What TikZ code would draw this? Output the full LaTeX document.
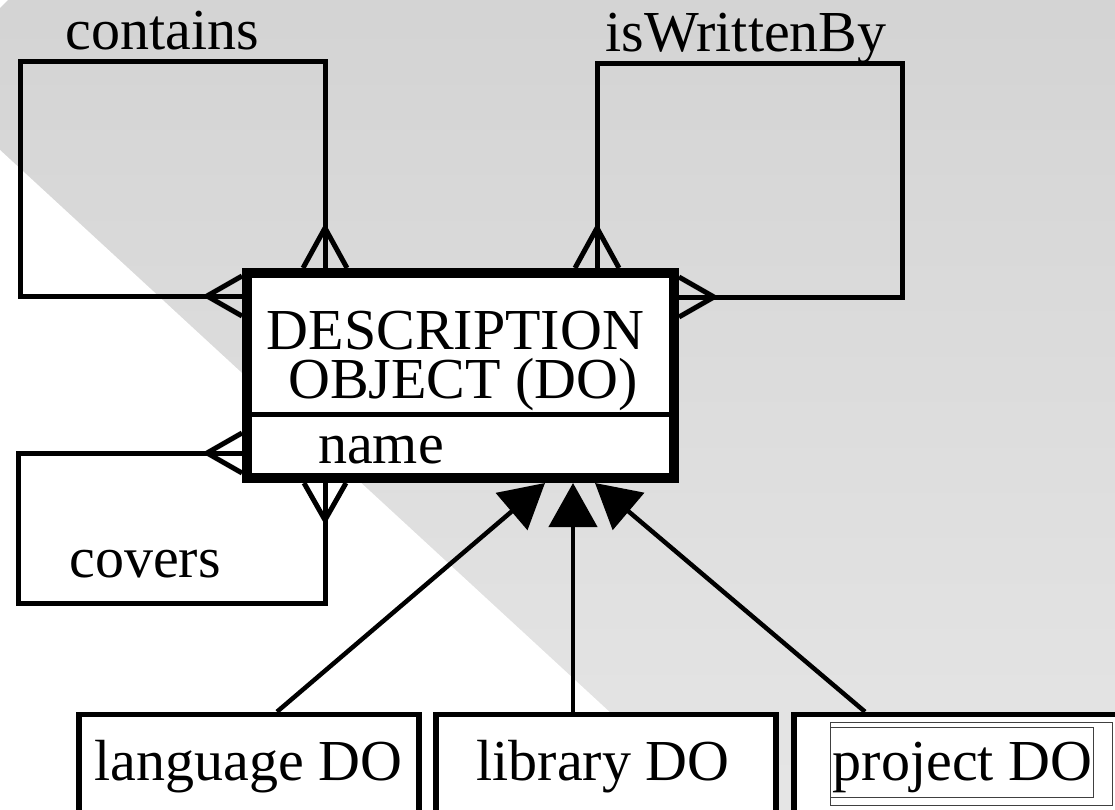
\documentclass[tikz,border=0pt]{standalone}
\usepackage{fontspec}
\setmainfont{Liberation Serif}
\usetikzlibrary{arrows.meta,calc}
\begin{document}
\begin{tikzpicture}[x=1pt,y=-1pt,
  rel/.style={line width=5pt, line join=miter},
  foot/.style={line width=5pt, line join=round},
  inh/.style={line width=4.5pt, -{Triangle[length=44pt,width=48pt]}},
  entity/.style={draw, fill=white, line width=10pt, inner sep=0pt},
  subbox/.style={draw, fill=white, line width=5.5pt, inner sep=0pt, minimum height=200pt, minimum width=340pt},
  lbl/.style={inner sep=0pt, anchor=base, font=\fontsize{58}{60}\selectfont},
  thinframe/.style={draw=black!75, line width=0.9pt}
]
\useasboundingbox (0,0) rectangle (1115,810);
\clip (0,0) rectangle (1115,810);
% background
\shade[top color=black!17, bottom color=black!10] (0,0) rectangle (1115,810);
\fill[white] (0,150) -- (716,810) -- (0,810) -- cycle;
\fill[white] (0,0) -- (8,0) -- (0,8) -- cycle;

% entity (positions the loops)
\node[entity, minimum width=427pt, minimum height=205pt] (do) at (460.5,375.5) {};

\coordinate (ca) at (325,62);
\coordinate (cb) at (20,62);
\coordinate (cc) at (20,296);
\draw[rel] (do.north -| ca) -- (ca) -- (cb) -- (cc) -- (do.west |- cc);
\draw[foot] ($(do.north -| ca)+(-22,0)$) -- ($(do.north -| ca)+(0,-40)$) -- ($(do.north -| ca)+(22,0)$);
\draw[foot] ($(do.west |- cc)+(0,-20)$) -- ($(do.west |- cc)+(-35,0)$) -- ($(do.west |- cc)+(0,20)$);

\coordinate (wa) at (597,64);
\coordinate (wb) at (902,64);
\coordinate (wc) at (902,297);
\draw[rel] (do.north -| wa) -- (wa) -- (wb) -- (wc) -- (do.east |- wc);
\draw[foot] ($(do.north -| wa)+(-22,0)$) -- ($(do.north -| wa)+(0,-40)$) -- ($(do.north -| wa)+(22,0)$);
\draw[foot] ($(do.east |- wc)+(0,-20)$) -- ($(do.east |- wc)+(35,0)$) -- ($(do.east |- wc)+(0,20)$);

\coordinate (va) at (18,453);
\coordinate (vb) at (18,603);
\coordinate (vc) at (325,603);
\draw[rel] (do.west |- va) -- (va) -- (vb) -- (vc) -- (do.south -| vc);
\draw[foot] ($(do.west |- va)+(0,-20)$) -- ($(do.west |- va)+(-35,0)$) -- ($(do.west |- va)+(0,20)$);
\draw[foot] ($(do.south -| vc)+(-21,0)$) -- ($(do.south -| vc)+(0,37)$) -- ($(do.south -| vc)+(21,0)$);

% entity redrawn on top so loops end at its border
\node[entity, minimum width=427pt, minimum height=205pt] (do2) at (do) {};
\coordinate (div) at (0,414);
\draw[line width=5pt] (do.west |- div) -- (do.east |- div);
\node[lbl, text depth=0pt] (t1) at (455.5,349) {DESCRIPTION};
\node[lbl, text height=38pt] (t2) at (463,398) {OBJECT (DO)};
\node[lbl, anchor=base west] (t3) at (318,463) {name};

% relationship labels
\node[lbl] (lc) at (162.5,50) {contains};
\node[lbl] (lw) at (746,52) {isWrittenBy};
\node[lbl] (lv) at (145,577) {covers};

% subclasses
\node[subbox] (lang) at (249,814.5) {};
\node[subbox] (lib) at (606,814.5) {};
\node[subbox] (proj) at (964,814.5) {};
\node[lbl] (lt) at (248.5,780) {language DO};
\node[lbl] (bt) at (603,780) {library DO};
\node[lbl] (pt) at (962.5,780) {project DO};
\draw[thinframe] (830,722) rectangle (1112,805);
\draw[thinframe] (830,727) rectangle (1093,797);

% inheritance arrows
\draw[inh] ($(lang.north)+(28,0)$) -- ($(do.south)+(84.5,0)$);
\draw[inh] ($(lib.north)+(-33,0)$) -- ($(do.south)+(112.5,0)$);
\draw[inh] ($(proj.north)+(-99,0)$) -- ($(do.south)+(134.5,0)$);
\end{tikzpicture}
\end{document}
